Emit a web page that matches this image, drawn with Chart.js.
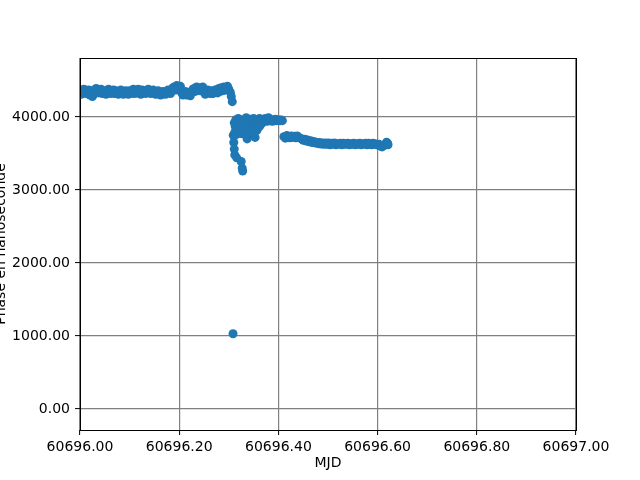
<!DOCTYPE html>
<html>
<head>
<meta charset="utf-8">
<script src="https://cdn.jsdelivr.net/npm/chart.js@4/dist/chart.umd.min.js"></script>
<style>
  html, body { margin: 0; padding: 0; background: #fff; }
  canvas { display: block; }
</style>
</head>
<body>
<canvas id="phaseChart" width="640" height="480"></canvas>
<script>
// Plateau avant le saut (MJD, phase en ns)
const mjdA = [
  60696.000, 60696.005, 60696.010, 60696.015, 60696.020, 60696.025, 60696.030, 60696.035,
  60696.040, 60696.045, 60696.050, 60696.055, 60696.060, 60696.065, 60696.070, 60696.075,
  60696.080, 60696.085, 60696.090, 60696.095, 60696.100, 60696.105, 60696.110, 60696.115,
  60696.120, 60696.125, 60696.130, 60696.135, 60696.140, 60696.145, 60696.150, 60696.155,
  60696.160, 60696.165, 60696.170, 60696.175, 60696.180, 60696.185, 60696.190, 60696.195,
  60696.200, 60696.205, 60696.210, 60696.215, 60696.220, 60696.225, 60696.230, 60696.235,
  60696.240, 60696.245, 60696.250, 60696.255, 60696.260, 60696.265, 60696.270, 60696.275,
  60696.280, 60696.285, 60696.290, 60696.295, 60696.300, 60696.303, 60696.305, 60696.307
];
const phaseA = [
  4360, 4340, 4370, 4330, 4300, 4280, 4350, 4380,
  4340, 4320, 4350, 4330, 4360, 4340, 4320, 4350,
  4330, 4340, 4320, 4350, 4360, 4340, 4320, 4330,
  4350, 4370, 4360, 4340, 4350, 4330, 4340, 4320,
  4330, 4310, 4340, 4330, 4360, 4380, 4410, 4430,
  4380, 4330, 4310, 4300, 4320, 4340, 4390, 4410,
  4400, 4380, 4340, 4330, 4350, 4360, 4330, 4370,
  4390, 4400, 4410, 4390, 4380, 4340, 4280, 4210
];
// mesures intercalées (bruit du même plateau)
const mjdA2 = [
  60696.0025, 60696.0075, 60696.0125, 60696.0175, 60696.0225, 60696.0275, 60696.0325, 60696.0375,
  60696.0425, 60696.0475, 60696.0525, 60696.0575, 60696.0625, 60696.0675, 60696.0725, 60696.0775,
  60696.0825, 60696.0875, 60696.0925, 60696.0975, 60696.1025, 60696.1075, 60696.1125, 60696.1175,
  60696.1225, 60696.1275, 60696.1325, 60696.1375, 60696.1425, 60696.1475, 60696.1525, 60696.1575,
  60696.1625, 60696.1675, 60696.1725, 60696.1775, 60696.1825, 60696.1875, 60696.1925, 60696.1975,
  60696.2025, 60696.2075, 60696.2125, 60696.2175, 60696.2225, 60696.2275, 60696.2325, 60696.2375,
  60696.2425, 60696.2475, 60696.2525, 60696.2575, 60696.2625, 60696.2675, 60696.2725, 60696.2775,
  60696.2825, 60696.2875, 60696.2925, 60696.2975
];
const phaseA2 = [
  4310, 4380, 4320, 4370, 4360, 4310, 4390, 4330,
  4380, 4360, 4310, 4380, 4320, 4370, 4360, 4310,
  4370, 4310, 4360, 4310, 4320, 4380, 4360, 4380,
  4310, 4330, 4320, 4380, 4320, 4370, 4310, 4360,
  4300, 4350, 4310, 4370, 4320, 4400, 4370, 4400,
  4420, 4300, 4350, 4330, 4290, 4380, 4350, 4370,
  4360, 4410, 4310, 4370, 4320, 4320, 4370, 4330,
  4350, 4360, 4370, 4420
];

// Après le saut : amas et traînée vers le bas
const mjdB = [
  60696.3085, 60696.309, 60696.310, 60696.311, 60696.312, 60696.316, 60696.325, 60696.327, 60696.328,
  60696.311, 60696.313, 60696.314, 60696.316, 60696.317, 60696.319, 60696.320, 60696.322,
  60696.323, 60696.325, 60696.326, 60696.328, 60696.329, 60696.331, 60696.332, 60696.334,
  60696.335, 60696.337, 60696.338, 60696.340, 60696.341, 60696.343, 60696.344, 60696.346,
  60696.347, 60696.349, 60696.350, 60696.352, 60696.353, 60696.355, 60696.356, 60696.358,
  60696.359, 60696.361, 60696.362, 60696.364, 60696.366, 60696.368, 60696.370, 60696.372,
  60696.374, 60696.376, 60696.378, 60696.380, 60696.382, 60696.384, 60696.386, 60696.388,
  60696.390, 60696.392, 60696.394, 60696.396, 60696.398, 60696.400, 60696.402, 60696.404,
  60696.406, 60696.408,
  60696.312, 60696.315, 60696.318, 60696.321, 60696.324, 60696.327, 60696.330, 60696.333,
  60696.336, 60696.339, 60696.342, 60696.345, 60696.348, 60696.351, 60696.354, 60696.357,
  60696.360, 60696.363
];
const phaseB = [
  1030, 3750, 3650, 3560, 3480, 3440, 3390, 3300, 3260,
  3920, 3870, 3960, 3820, 3900, 3980, 3850, 3930,
  3800, 3890, 3960, 3830, 3910, 3850, 3950, 3880,
  3990, 3700, 3820, 3930, 3860, 3970, 3780, 3900,
  3940, 3850, 3980, 3800, 3720, 3900, 3960, 3870,
  3950, 3930, 3980, 3940, 3960, 3920, 3970, 3950,
  3980, 3960, 3940, 3990, 3970, 3950, 3960, 3940,
  3960, 3950, 3970, 3950, 3960, 3950, 3960, 3950,
  3960, 3950,
  3790, 3760, 3810, 3780, 3830, 3770, 3800, 3820,
  3780, 3800, 3830, 3810, 3790, 3830, 3850, 3820,
  3860, 3880
];

// Dernier palier
const mjdC = [
  60696.411, 60696.414, 60696.417, 60696.420, 60696.423, 60696.426, 60696.429, 60696.432,
  60696.435, 60696.438, 60696.441, 60696.444, 60696.447, 60696.450, 60696.453, 60696.456,
  60696.459, 60696.462, 60696.465, 60696.468, 60696.471, 60696.474, 60696.477, 60696.480,
  60696.483, 60696.486, 60696.489, 60696.492, 60696.495, 60696.498, 60696.501, 60696.504,
  60696.507, 60696.510, 60696.513, 60696.516, 60696.519, 60696.522, 60696.525, 60696.528,
  60696.531, 60696.534, 60696.537, 60696.540, 60696.543, 60696.546, 60696.549, 60696.552,
  60696.555, 60696.558, 60696.561, 60696.564, 60696.567, 60696.570, 60696.573, 60696.576,
  60696.579, 60696.582, 60696.585, 60696.588, 60696.591, 60696.594, 60696.597, 60696.600,
  60696.603, 60696.606, 60696.609, 60696.612, 60696.615, 60696.618, 60696.620, 60696.621
];
const phaseC = [
  3730, 3710, 3745, 3725, 3715, 3740, 3720, 3735,
  3715, 3740, 3720, 3710, 3700, 3680, 3695, 3670,
  3685, 3660, 3675, 3650, 3665, 3645, 3655, 3635,
  3650, 3630, 3645, 3625, 3645, 3625, 3645, 3620,
  3640, 3625, 3645, 3620, 3635, 3625, 3640, 3620,
  3640, 3625, 3630, 3640, 3620, 3635, 3625, 3640,
  3620, 3635, 3625, 3640, 3620, 3635, 3625, 3640,
  3620, 3640, 3625, 3620, 3640, 3625, 3630, 3615,
  3625, 3600, 3590, 3605, 3620, 3655, 3640, 3620
];

// Graduations
const xTicks = [60696.0, 60696.2, 60696.4, 60696.6, 60696.8, 60697.0];
const yTicks = [0, 1000, 2000, 3000, 4000];

const xLabel = 'MJD';
const yLabel = 'Phase en nanoseconde';

function toPoints(xs, ys) {
  return xs.map((x, i) => ({ x: x, y: ys[i] }));
}

const points = [].concat(
  toPoints(mjdA, phaseA), toPoints(mjdA2, phaseA2),
  toPoints(mjdB, phaseB), toPoints(mjdC, phaseC)
);

Chart.defaults.font.family = '"DejaVu Sans", sans-serif';
Chart.defaults.font.size = 14;
Chart.defaults.color = '#000';

// cadre complet autour de la zone de tracé + titre vertical (coupé à gauche comme l'original)
const framePlugin = {
  id: 'frame',
  afterDraw(chart) {
    const { ctx, chartArea: a } = chart;
    ctx.save();
    ctx.strokeStyle = '#000';
    ctx.lineWidth = 1;
    ctx.strokeRect(a.left + 0.5, a.top + 0.5, a.right - a.left, a.bottom - a.top);
    ctx.translate(1, (a.top + a.bottom) / 2);
    ctx.rotate(-Math.PI / 2);
    ctx.font = '14px "DejaVu Sans", sans-serif';
    ctx.fillStyle = '#000';
    ctx.textAlign = 'center';
    ctx.textBaseline = 'middle';
    ctx.fillText(yLabel, 0, 0);
    ctx.restore();
  }
};

new Chart(document.getElementById('phaseChart'), {
  type: 'scatter',
  data: {
    datasets: [{
      data: points,
      backgroundColor: '#1f77b4',
      borderColor: '#1f77b4',
      borderWidth: 0,
      pointRadius: 4.5,
      pointHoverRadius: 4.5
    }]
  },
  options: {
    responsive: false,
    animation: false,
    devicePixelRatio: 1,
    layout: { padding: { top: 58, right: 64, left: 0, bottom: 0 } },
    plugins: { legend: { display: false }, tooltip: { enabled: false } },
    scales: {
      x: {
        type: 'linear',
        min: 60696.0,
        max: 60697.0,
        afterBuildTicks: s => { s.ticks = xTicks.map(v => ({ value: v })); },
        afterFit: s => { s.height = 50; },
        grid: { color: '#808080', lineWidth: 1.2, tickColor: '#000', tickLength: 5, tickWidth: 1 },
        border: { display: false },
        ticks: { padding: 4, maxRotation: 0, callback: v => Number(v).toFixed(2) },
        title: { display: true, text: xLabel, padding: { top: 0, bottom: 8 } }
      },
      y: {
        type: 'linear',
        min: -288,
        max: 4808,
        afterBuildTicks: s => { s.ticks = yTicks.map(v => ({ value: v })); },
        afterFit: s => { s.width = 80; },
        grid: { color: '#808080', lineWidth: 1.2, tickColor: '#000', tickLength: 5, tickWidth: 1 },
        border: { display: false },
        ticks: { padding: 5, callback: v => Number(v).toFixed(2) }
      }
    }
  },
  plugins: [framePlugin]
});
</script>
</body>
</html>
